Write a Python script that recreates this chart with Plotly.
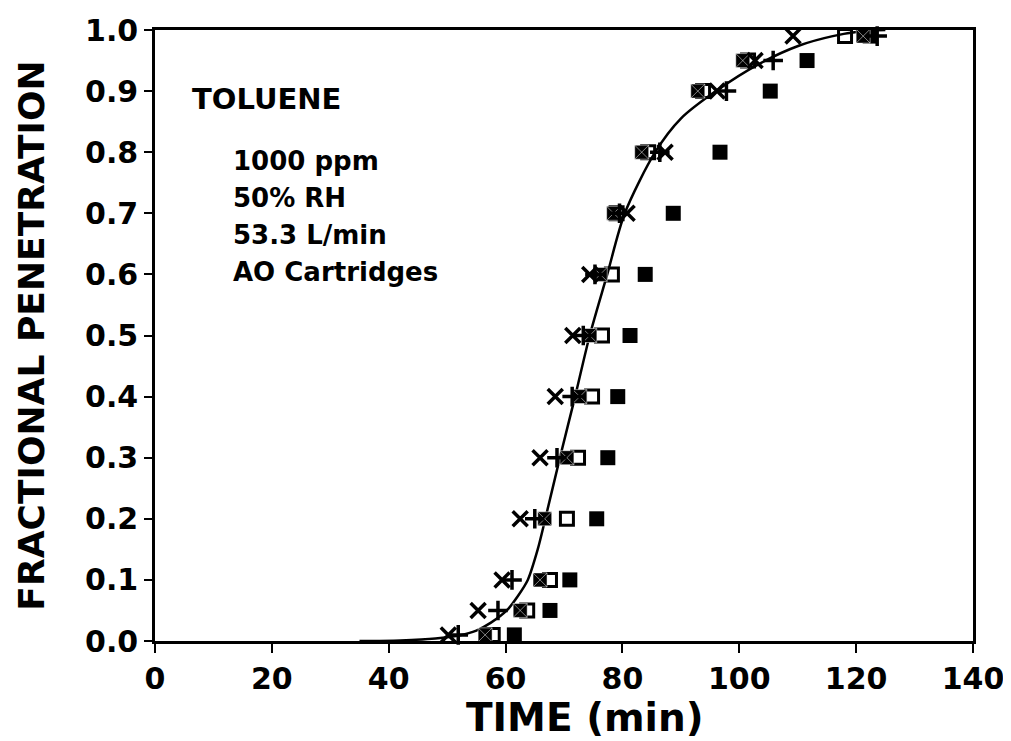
import plotly.graph_objects as go

# Fractional penetration levels (rows of data)
fp_levels = [0.01, 0.05, 0.1, 0.2, 0.3, 0.4, 0.5, 0.6, 0.7, 0.8, 0.9, 0.95, 0.99]

# Breakthrough times (min) for each cartridge series
t_x = [50.2, 55.3, 59.4, 62.5, 65.9, 68.5, 71.5, 74.4, 80.8, 87.3, 96.2, 102.7, 109.2]
t_plus = [51.9, 58.7, 61.1, 65.0, 68.8, 71.4, 73.3, 75.3, 79.5, 86.4, 97.8, 105.8, 123.6]
t_hatch = [56.5, 62.5, 65.9, 66.7, 70.5, 72.7, 74.4, 76.2, 78.5, 83.3, 92.9, 100.6, 121.2]
t_open = [57.8, 63.7, 67.6, 70.5, 72.4, 74.8, 76.5, 78.2, 79.0, 84.4, 93.8, 101.5, 118.1]
t_filled = [61.5, 67.6, 71.0, 75.6, 77.5, 79.2, 81.3, 83.9, 88.7, 96.7, 105.3, 111.6, 122.4]

# Fitted curve
curve_t = [35, 42, 48, 52, 55, 57.5, 60.2, 62.2, 63.8, 65.5, 66.8, 69.3, 71.9, 74.4,
           77.4, 80.4, 85.6, 90, 96, 103.5, 110.4, 116, 121, 125]
curve_fp = [0.0, 0.001, 0.004, 0.009, 0.017, 0.03, 0.05, 0.075, 0.1, 0.15, 0.2, 0.3,
            0.4, 0.5, 0.6, 0.7, 0.8, 0.855, 0.9, 0.945, 0.975, 0.99, 0.998, 1.0]

x_ticks = [0, 20, 40, 60, 80, 100, 120, 140]
y_ticks = [0.0, 0.1, 0.2, 0.3, 0.4, 0.5, 0.6, 0.7, 0.8, 0.9, 1.0]

annot_lines = ["1000 ppm", "50% RH", "53.3 L/min", "AO Cartridges"]

FONT = "DejaVu Sans, Liberation Sans, Arial, sans-serif"

fig = go.Figure()

fig.add_trace(go.Scatter(x=curve_t, y=curve_fp, mode="lines",
                         line=dict(color="black", width=2.5, shape="spline", smoothing=0.8),
                         showlegend=False, hoverinfo="skip"))

common = dict(mode="markers", showlegend=False, cliponaxis=False)
fig.add_trace(go.Scatter(x=t_filled, y=fp_levels,
                         marker=dict(symbol="square", size=15, color="black"), **common))
fig.add_trace(go.Scatter(x=t_open, y=fp_levels,
                         marker=dict(symbol="square-open", size=13, color="black",
                                     line=dict(width=3, color="black")), **common))
fig.add_trace(go.Scatter(x=t_hatch, y=fp_levels,
                         marker=dict(symbol="square-x", size=14, color="black",
                                     line=dict(width=0.5, color="white")), **common))
fig.add_trace(go.Scatter(x=t_plus, y=fp_levels,
                         marker=dict(symbol="cross-thin", size=14,
                                     line=dict(width=3.5, color="black")), **common))
fig.add_trace(go.Scatter(x=t_x, y=fp_levels,
                         marker=dict(symbol="x-thin", size=15,
                                     line=dict(width=3.5, color="black")), **common))

# page has an 8px body margin, so the figure is drawn 8px in from the corner
W, H = 1003, 733
L, R, T, B = 147, 965, 22, 633


def px_to_data(px, py):
    # px, py are screen pixels in the 1011x741 window
    px -= 8
    py -= 8
    return (px - L) / (R - L) * 140, (B - py) / (B - T) * 1.0


def px_to_paper(px, py):
    px -= 8
    py -= 8
    return (px - L) / (R - L), (B - py) / (B - T)


ax, ay = px_to_data(190, 99)
fig.add_annotation(x=ax, y=ay, text="<b>TOLUENE</b>",
                   showarrow=False, xanchor="left", yanchor="middle",
                   font=dict(family=FONT, size=29, color="black"))
for i, line in enumerate(annot_lines):
    ax, ay = px_to_data(231, 161 + i * 37)
    fig.add_annotation(x=ax, y=ay, text="<b>%s</b>" % line,
                       showarrow=False, xanchor="left", yanchor="middle",
                       font=dict(family=FONT, size=26, color="black"))

# x-axis title, placed slightly right of the plot centre as in the original
tx, ty = px_to_paper(585, 717)
fig.add_annotation(x=tx, y=ty, xref="paper", yref="paper",
                   text="<b>TIME (min)</b>", showarrow=False,
                   xanchor="center", yanchor="middle",
                   font=dict(family=FONT, size=39, color="black"))

fig.update_layout(
    width=W, height=H,
    margin=dict(l=L, r=W - R, t=T, b=H - B, autoexpand=False),
    paper_bgcolor="white", plot_bgcolor="white",
    font=dict(family=FONT, color="black"),
    xaxis=dict(range=[0, 140], tickvals=x_ticks, ticktext=[str(v) for v in x_ticks],
               showgrid=False, zeroline=False, showline=True, linecolor="black",
               linewidth=2.5, mirror=True, ticks="outside", ticklen=9, tickwidth=2,
               tickcolor="black", automargin=False,
               tickfont=dict(family=FONT, size=30, color="black", weight="bold")),
    yaxis=dict(range=[0, 1.0], tickvals=y_ticks, ticktext=["%.1f" % v for v in y_ticks],
               showgrid=False, zeroline=False, showline=True, linecolor="black",
               linewidth=2.5, mirror=True, ticks="outside", ticklen=8, tickwidth=2,
               tickcolor="black", automargin=False,
               tickfont=dict(family=FONT, size=30, color="black", weight="bold"),
               title=dict(text="FRACTIONAL PENETRATION", standoff=30,
                          font=dict(family=FONT, size=36, color="black", weight="bold"))),
)

fig.write_html("out.html")
